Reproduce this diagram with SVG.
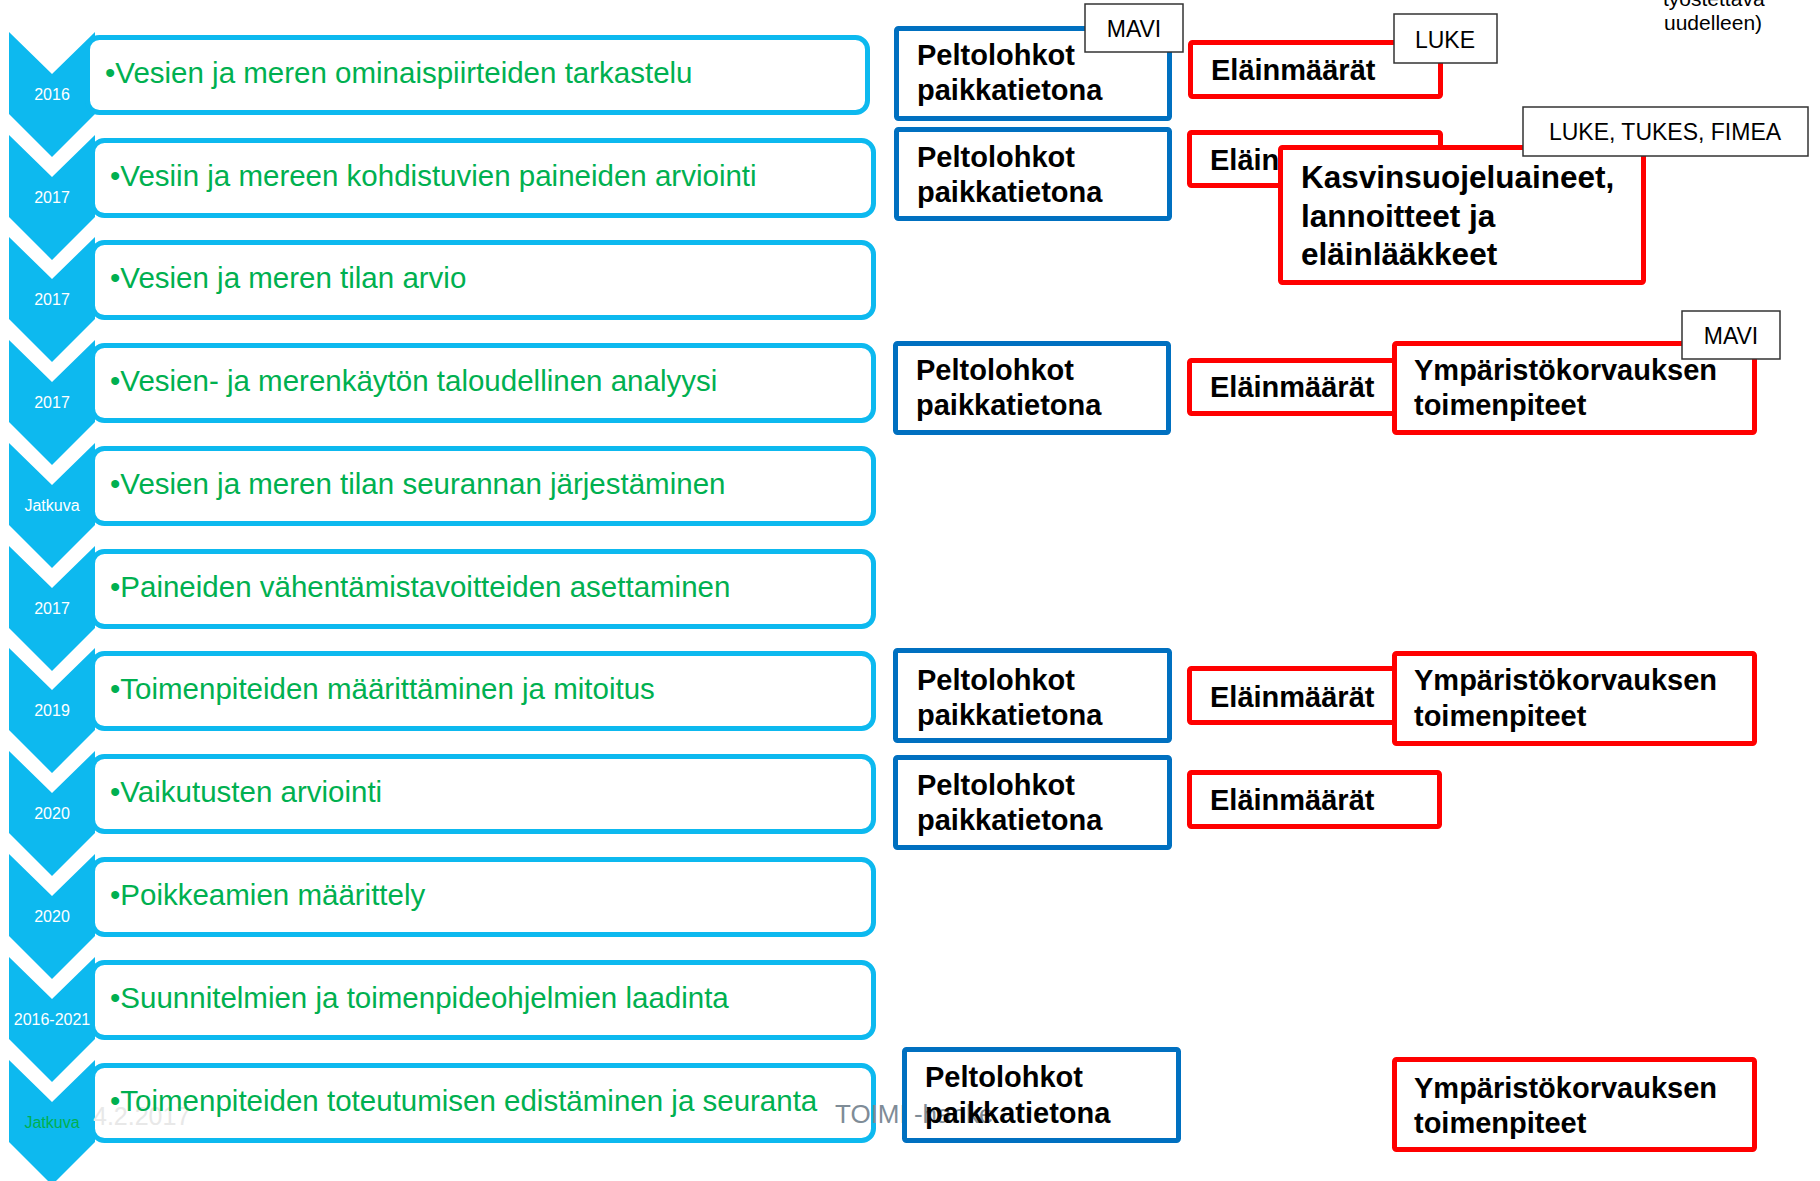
<svg xmlns="http://www.w3.org/2000/svg" xmlns:xlink="http://www.w3.org/1999/xlink" width="1820" height="1181" viewBox="0 0 1820 1181">
<defs>
<style>
.chev{fill:#0DB9EF}
.rowbox{fill:#fff;stroke:#0DB9EF;stroke-width:5}
.rowtxt{font-family:"Liberation Sans",Arial,sans-serif;font-size:29.5px;fill:#00B050}
.year{font-family:"Liberation Sans",Arial,sans-serif;font-size:16px;fill:#fff;text-anchor:middle}
.blue{fill:#fff;stroke:#0070C0;stroke-width:5}
.red{fill:#fff;stroke:#FF0000;stroke-width:5}
.bold{font-family:"Liberation Sans",Arial,sans-serif;font-weight:bold;font-size:29px;fill:#000}
.bold31{font-family:"Liberation Sans",Arial,sans-serif;font-weight:bold;font-size:31.5px;fill:#000}
.lbl{fill:#fff;stroke:#333;stroke-width:1.5}
.lbltxt{font-family:"Liberation Sans",Arial,sans-serif;font-size:23px;fill:#000;text-anchor:middle}
.note{font-family:"Liberation Sans",Arial,sans-serif;font-size:21px;fill:#000}
</style>
<path id="chevron" d="M9,0 L52,42 L95,0 L95,82 L52,125 L9,82 Z"/>
</defs>
<rect width="1820" height="1181" fill="#fff"/>

<g id="row0"><use xlink:href="#chevron" class="chev" y="32"/><rect class="rowbox" x="87.5" y="37.5" width="780" height="75" rx="12"/><text class="year" x="52" y="100">2016</text><text class="rowtxt" x="105" y="83">•Vesien ja meren ominaispiirteiden tarkastelu</text></g>
<g id="row1"><use xlink:href="#chevron" class="chev" y="135"/><rect class="rowbox" x="92.5" y="140.5" width="781" height="75" rx="12"/><text class="year" x="52" y="203">2017</text><text class="rowtxt" x="110" y="186">•Vesiin ja mereen kohdistuvien paineiden arviointi</text></g>
<g id="row2"><use xlink:href="#chevron" class="chev" y="237"/><rect class="rowbox" x="92.5" y="242.5" width="781" height="75" rx="12"/><text class="year" x="52" y="305">2017</text><text class="rowtxt" x="110" y="288">•Vesien ja meren tilan arvio</text></g>
<g id="row3"><use xlink:href="#chevron" class="chev" y="340"/><rect class="rowbox" x="92.5" y="345.5" width="781" height="75" rx="12"/><text class="year" x="52" y="408">2017</text><text class="rowtxt" x="110" y="391">•Vesien- ja merenkäytön taloudellinen analyysi</text></g>
<g id="row4"><use xlink:href="#chevron" class="chev" y="443"/><rect class="rowbox" x="92.5" y="448.5" width="781" height="75" rx="12"/><text class="year" x="52" y="511">Jatkuva</text><text class="rowtxt" x="110" y="494">•Vesien ja meren tilan seurannan järjestäminen</text></g>
<g id="row5"><use xlink:href="#chevron" class="chev" y="546"/><rect class="rowbox" x="92.5" y="551.5" width="781" height="75" rx="12"/><text class="year" x="52" y="614">2017</text><text class="rowtxt" x="110" y="597">•Paineiden vähentämistavoitteiden asettaminen</text></g>
<g id="row6"><use xlink:href="#chevron" class="chev" y="648"/><rect class="rowbox" x="92.5" y="653.5" width="781" height="75" rx="12"/><text class="year" x="52" y="716">2019</text><text class="rowtxt" x="110" y="699">•Toimenpiteiden määrittäminen ja mitoitus</text></g>
<g id="row7"><use xlink:href="#chevron" class="chev" y="751"/><rect class="rowbox" x="92.5" y="756.5" width="781" height="75" rx="12"/><text class="year" x="52" y="819">2020</text><text class="rowtxt" x="110" y="802">•Vaikutusten arviointi</text></g>
<g id="row8"><use xlink:href="#chevron" class="chev" y="854"/><rect class="rowbox" x="92.5" y="859.5" width="781" height="75" rx="12"/><text class="year" x="52" y="922">2020</text><text class="rowtxt" x="110" y="905">•Poikkeamien määrittely</text></g>
<g id="row9"><use xlink:href="#chevron" class="chev" y="957"/><rect class="rowbox" x="92.5" y="962.5" width="781" height="75" rx="12"/><text class="year" x="52" y="1025">2016-2021</text><text class="rowtxt" x="110" y="1008">•Suunnitelmien ja toimenpideohjelmien laadinta</text></g>
<g id="row10"><use xlink:href="#chevron" class="chev" y="1060"/><rect class="rowbox" x="92.5" y="1065.5" width="781" height="75" rx="12"/><text class="year" x="52" y="1128" style="fill:#00B050">Jatkuva</text><text x="93" y="1125" font-family="Liberation Sans, Arial, sans-serif" font-size="25" fill="#E8E8E8">4.2.2017</text><text class="rowtxt" x="110" y="1111">•Toimenpiteiden toteutumisen edistäminen ja seuranta</text></g>

<g id="footer"><text x="835" y="1123" font-family="Liberation Sans, Arial, sans-serif" font-size="26" fill="#7F8C97">TOIMI -hanke</text></g>

<g id="connectors"></g>

<g id="pelto0"><rect class="blue" x="896.5" y="28.5" width="273" height="90" rx="2"/><text class="bold" x="917" y="65">Peltolohkot</text><text class="bold" x="917" y="100">paikkatietona</text></g>
<g id="pelto1"><rect class="blue" x="896.5" y="129.5" width="273" height="89" rx="2"/><text class="bold" x="917" y="167">Peltolohkot</text><text class="bold" x="917" y="202">paikkatietona</text></g>
<g id="pelto3"><rect class="blue" x="895.5" y="343.5" width="273" height="89" rx="2"/><text class="bold" x="916" y="380">Peltolohkot</text><text class="bold" x="916" y="415">paikkatietona</text></g>
<g id="pelto6"><rect class="blue" x="895.5" y="650.5" width="274" height="90" rx="2"/><text class="bold" x="917" y="690">Peltolohkot</text><text class="bold" x="917" y="725">paikkatietona</text></g>
<g id="pelto7"><rect class="blue" x="895.5" y="757.5" width="274" height="90" rx="2"/><text class="bold" x="917" y="795">Peltolohkot</text><text class="bold" x="917" y="830">paikkatietona</text></g>
<g id="pelto10"><rect x="904.5" y="1049.5" width="274" height="91" rx="2" fill="none" stroke="#0070C0" stroke-width="5"/><text class="bold" x="925" y="1087">Peltolohkot</text><text class="bold" x="925" y="1123">paikkatietona</text></g>

<g id="elain0"><rect class="red" x="1190.5" y="42.5" width="250" height="54" rx="2"/><text class="bold" x="1211" y="80">Eläinmäärät</text></g>
<g id="elain1"><rect class="red" x="1189.5" y="132.5" width="251" height="53" rx="2"/><text class="bold" x="1210" y="170">Eläinmäärät</text></g>
<g id="elain3"><rect class="red" x="1189.5" y="360.5" width="251" height="53" rx="2"/><text class="bold" x="1210" y="397">Eläinmäärät</text></g>
<g id="elain6"><rect class="red" x="1189.5" y="668.5" width="251" height="54" rx="2"/><text class="bold" x="1210" y="707">Eläinmäärät</text></g>
<g id="elain7"><rect class="red" x="1189.5" y="772.5" width="250" height="54" rx="2"/><text class="bold" x="1210" y="810">Eläinmäärät</text></g>

<g id="kasvin"><rect class="red" x="1280.5" y="147.5" width="363" height="135" rx="2"/><text class="bold31" x="1301" y="188">Kasvinsuojeluaineet,</text><text class="bold31" x="1301" y="227">lannoitteet ja</text><text class="bold31" x="1301" y="265">eläinlääkkeet</text></g>

<g id="ymp3"><rect class="red" x="1394.5" y="343.5" width="360" height="89" rx="2"/><text class="bold" x="1414" y="380">Ympäristökorvauksen</text><text class="bold" x="1414" y="415">toimenpiteet</text></g>
<g id="ymp6"><rect class="red" x="1394.5" y="653.5" width="360" height="90" rx="2"/><text class="bold" x="1414" y="690">Ympäristökorvauksen</text><text class="bold" x="1414" y="726">toimenpiteet</text></g>
<g id="ymp10"><rect class="red" x="1394.5" y="1059.5" width="360" height="90" rx="2"/><text class="bold" x="1414" y="1098">Ympäristökorvauksen</text><text class="bold" x="1414" y="1133">toimenpiteet</text></g>

<g id="lbl-mavi0"><rect class="lbl" x="1085" y="4" width="98" height="48"/><text class="lbltxt" x="1134" y="37">MAVI</text></g>
<g id="lbl-luke"><rect class="lbl" x="1394" y="14" width="103" height="49"/><text class="lbltxt" x="1445" y="48">LUKE</text></g>
<g id="lbl-ltf"><rect class="lbl" x="1523" y="107" width="285" height="49"/><text class="lbltxt" x="1665" y="140">LUKE, TUKES, FIMEA</text></g>
<g id="lbl-mavi3"><rect class="lbl" x="1682" y="311" width="98" height="48"/><text class="lbltxt" x="1731" y="344">MAVI</text></g>

<g id="note"><text class="note" x="1663" y="6">työstettävä</text><text class="note" x="1664" y="30">uudelleen)</text></g>
</svg>
